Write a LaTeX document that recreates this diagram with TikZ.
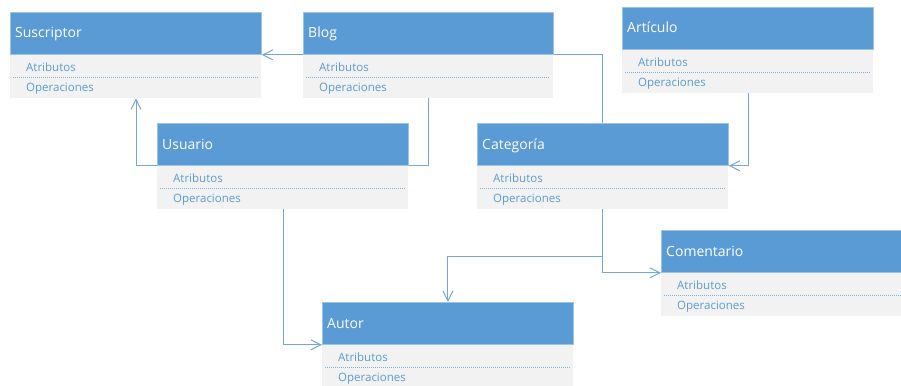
\documentclass[tikz,border=0pt]{standalone}
\usepackage{fontspec}
\setmainfont{Open Sans}
\usetikzlibrary{arrows.meta,calc}
\definecolor{hdrblue}{HTML}{5B9BD5}
\definecolor{hdredge}{HTML}{9DC3E6}
\definecolor{bodygray}{HTML}{F2F2F2}
\definecolor{itmblue}{HTML}{5B9BD5}
\definecolor{sepblue}{HTML}{7FAEE0}
\definecolor{connblue}{HTML}{74A7DE}
\tikzset{
  hdr/.style={rectangle, fill=hdrblue, draw=hdredge, line width=0.8pt, minimum height=42pt, inner sep=0pt},
  bdy/.style={rectangle, fill=bodygray, minimum height=44pt, inner sep=0pt},
  ttl/.style={text=white, font=\fontsize{14}{16}\selectfont, inner sep=0pt},
  itm/.style={text=itmblue, font=\fontsize{11.5}{13}\selectfont, inner sep=0pt},
  sep/.style={draw=sepblue, line width=0.8pt, dash pattern=on 1pt off 1pt},
  conn/.style={draw=connblue, line width=1pt},
  arr/.style={conn, -{Straight Barb[length=10pt,width=10pt]}}
}
\newcommand\umlcls[5]{%
  \node[bdy, minimum width=#4pt, anchor=north west] (#1-b) at (#2,-#3-42) {};
  \node[hdr, minimum width=#4pt, anchor=north west] (#1) at (#2,-#3) {};
  \node[ttl, anchor=base west] (#1-t) at ([xshift=5pt,yshift=-26pt]#1.north west) {#5};
  \node[itm, anchor=base west] (#1-a) at ([xshift=16pt,yshift=-16.5pt]#1.south west) {Atributos};
  \draw[sep] ([xshift=3pt,yshift=-23pt]#1.south west) -- ([xshift=-4pt,yshift=-23pt]#1.south east);
  \node[itm, anchor=base west] (#1-o) at ([xshift=16pt,yshift=-37pt]#1.south west) {Operaciones};
}
\begin{document}
\begin{tikzpicture}[x=1pt,y=1pt]
\useasboundingbox (0,0) rectangle (901,-385);
\clip (0,0) rectangle (901,-385);
\fill[white] (0,0) rectangle (901,-385);
\umlcls{susc}{10}{12}{251}{Suscriptor}
\umlcls{blog}{303}{12}{250}{Blog}
\umlcls{art}{622}{7}{251}{Artículo}
\umlcls{usu}{157}{123}{251}{Usuario}
\umlcls{cat}{477}{123}{251}{Categoría}
\umlcls{com}{661}{230}{251}{Comentario}
\umlcls{aut}{322}{302}{251}{Autor}
% connectors
\draw[arr] (blog.south west) -- (susc.south east);
\draw[arr] (usu.south west) -| ([xshift=126pt]susc-b.south west);
\draw[conn] ([xshift=125pt]blog-b.south west) |- (usu.south east);
\draw[conn] (blog.south east) -| ([xshift=125pt]cat.north west);
\draw[arr] ([xshift=126pt]art-b.south west) |- (cat.south east);
\draw[arr] ([xshift=125pt]cat-b.south west) |- (com.south west);
\coordinate (br) at ([xshift=125pt,yshift=-47pt]cat-b.south west);
\draw[arr] (br) -| (aut.north);
\draw[arr] ([xshift=126pt]usu-b.south west) |- (aut.south west);
\end{tikzpicture}
\end{document}
